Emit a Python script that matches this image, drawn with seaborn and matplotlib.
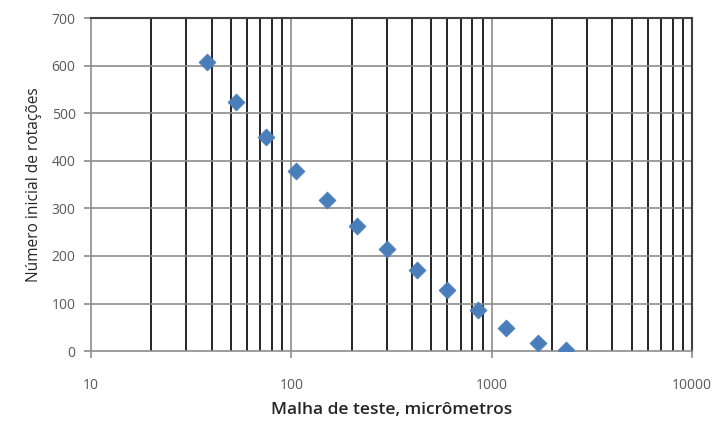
import seaborn as sns
import matplotlib.pyplot as plt
import matplotlib.ticker as mticker
import numpy as np
import pandas as pd

# sieve opening (micrometres) and initial number of rotations
malha = [38, 53, 75, 106, 150, 212, 300, 425, 600, 850, 1180, 1700, 2360]
rotacoes = [607, 524, 450, 378, 318, 264, 214, 170, 129, 87, 48, 18, 2]
x_ticks = [10, 100, 1000, 10000]
y_ticks = [0, 100, 200, 300, 400, 500, 600, 700]

df = pd.DataFrame({"malha": malha, "rotacoes": rotacoes})

sns.set_style("white")
plt.rcParams['font.family'] = ['Open Sans', 'DejaVu Sans']

fig = plt.figure(figsize=(7.21, 4.21), dpi=100)
ax = fig.add_axes([0.126, 0.166, 0.834, 0.791])

# vertical grid: minor decades in black, majors grey
for dec in [10, 100, 1000]:
    for k in range(2, 10):
        ax.axvline(dec * k, color="black", lw=1.2, zorder=1)
for v in [100, 1000]:
    ax.axvline(v, color="#8c8c8c", lw=1.2, zorder=1)
for v in y_ticks[1:]:
    ax.axhline(v, color="#8c8c8c", lw=1.2, zorder=1)

sns.scatterplot(data=df, x="malha", y="rotacoes", marker="D", s=75,
                color="#4a7ebb", edgecolor="#4a7ebb", linewidth=0.5,
                zorder=3, ax=ax)

ax.set_xscale("log")
ax.set_xlim(10, 10000)
ax.set_ylim(0, 700)
ax.set_xticks(x_ticks)
ax.xaxis.set_major_formatter(mticker.FuncFormatter(lambda v, p: f"{int(v)}"))
ax.xaxis.set_minor_locator(mticker.NullLocator())
ax.set_yticks(y_ticks)

ax.tick_params(axis="both", colors="#8c8c8c", labelcolor="#595959",
               labelsize=10, length=5, width=1.2, direction="out")
ax.tick_params(axis="x", pad=14)
ax.tick_params(axis="y", pad=6)
ax.tick_params(bottom=True, left=True)

for side in ["left", "bottom"]:
    ax.spines[side].set_color("#8c8c8c")
    ax.spines[side].set_linewidth(1.2)
for side in ["top", "right"]:
    ax.spines[side].set_color("#404040")
    ax.spines[side].set_linewidth(1.5)

ax.set_xlabel("Malha de teste, micrômetros", fontsize=12.5, fontweight="semibold",
              color="#262626", labelpad=7)
ax.set_ylabel("Número inicial de rotações", fontsize=11.2, color="#262626", labelpad=7)

plt.savefig("out.png", dpi=100)
plt.close()
